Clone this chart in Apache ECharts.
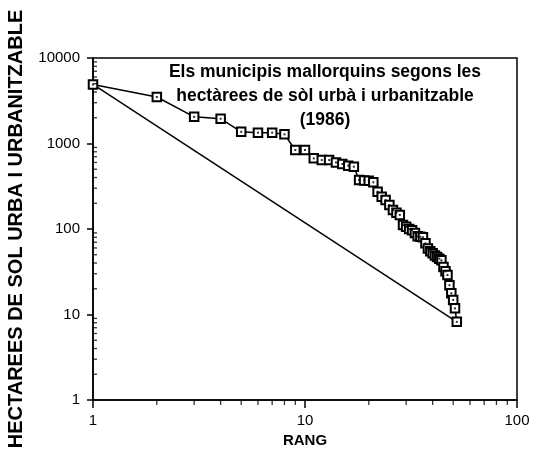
<!DOCTYPE html>
<html>
<head>
<meta charset="utf-8">
<script src="https://cdn.jsdelivr.net/npm/echarts@6/dist/echarts.min.js"></script>
<style>html,body{margin:0;padding:0;background:#fff}#c{width:533px;height:450px}</style>
</head>
<body>
<div id="c"></div>
<script>
// Rank of each municipality (x)
var ranks = [1,2,3,4,5,6,7,8,9,10,11,12,13,14,15,16,17,18,19,20,21,22,23,24,25,26,27,28,29,30,31,32,33,34,35,36,37,38,39,40,41,42,43,44,45,46,47,48,49,50,51,52];
// Hectares of urban and urbanizable land (y)
var hectares = [4900,3500,2050,1950,1370,1340,1340,1280,840,840,670,640,640,600,575,550,535,374,370,367,352,273,239,218,191,167,155,146,111,106,100,97,90,82,81,80,68,59,55,52,49,47,45,43,36,32,29,22,17.7,14.8,11.8,8.2];
// Reference straight line (rank-size rule)
var refLineX = [1, 52];
var refLineY = [4900, 8.2];
// Tick values
var xMajorTicks = [1, 10, 100];
var yMajorTicks = [1, 10, 100, 1000, 10000];
var xMinorTicks = [2,3,4,5,6,7,8,9,20,30,40,50,60,70,80,90];
var yMinorTicks = [2,3,4,5,6,7,8,9,20,30,40,50,60,70,80,90,200,300,400,500,600,700,800,900,2000,3000,4000,5000,6000,7000,8000,9000];

var titleLines = ['Els municipis mallorquins segons les', 'hectàrees de sòl urbà i urbanitzable', '(1986)'];
var xName = 'RANG';
var yName = 'HECTAREES DE SOL URBA I URBANITZABLE';

var mainData = ranks.map(function(r, i){ return [r, hectares[i]]; });
var refData = refLineX.map(function(x, i){ return [x, refLineY[i]]; });

var chart = echarts.init(document.getElementById('c'), null, {renderer: 'canvas'});
var font = 'Liberation Sans, Arial, sans-serif';
function plain(v){ return String(Math.round(v)); }
chart.setOption({
  animation: false,
  backgroundColor: '#fff',
  title: {
    text: titleLines.join('\n'),
    left: 320, top: 55, textAlign: 'center',
    textStyle: {fontFamily: font, fontSize: 17.5, fontWeight: 'bold', color: '#000', lineHeight: 24}
  },
  grid: {left: 93, right: 16, top: 58, bottom: 50, containLabel: false, outerBoundsMode: 'none',
         show: true, borderColor: '#000', borderWidth: 1.5, backgroundColor: 'transparent'},
  xAxis: {
    type: 'log', logBase: 10, min: 1, max: 100,
    name: xName, nameLocation: 'middle', nameGap: 31,
    nameTextStyle: {fontFamily: font, fontSize: 15, fontWeight: 'bold', color: '#000'},
    axisLine: {lineStyle: {color: '#000', width: 1.5}},
    axisTick: {show: true, length: 8, lineStyle: {color: '#000', width: 1.5}},
    axisLabel: {fontFamily: font, fontSize: 15, color: '#000', margin: 13, formatter: plain},
    splitLine: {show: false}
  },
  yAxis: {
    type: 'log', logBase: 10, min: 1, max: 10000,
    name: yName, nameLocation: 'middle', nameGap: 67, nameRotate: 90,
    nameTextStyle: {fontFamily: font, fontSize: 20, fontWeight: 'bold', color: '#000'},
    axisLine: {lineStyle: {color: '#000', width: 1.5}},
    axisTick: {show: true, length: 6, lineStyle: {color: '#000', width: 1.5}},
    axisLabel: {fontFamily: font, fontSize: 15, color: '#000', margin: 13, formatter: plain},
    splitLine: {show: false}
  },
  series: [
    {
      type: 'line', data: refData, symbol: 'none',
      lineStyle: {color: '#000', width: 1.5}, z: 2
    },
    {
      type: 'line', data: mainData, symbol: 'rect', symbolSize: 8.5, showAllSymbol: true,
      lineStyle: {color: '#000', width: 1.5},
      itemStyle: {color: '#fff', borderColor: '#000', borderWidth: 2}, z: 3
    },
    {
      type: 'scatter', data: mainData, symbol: 'rect', symbolSize: 2,
      itemStyle: {color: '#000'}, z: 4, silent: true
    },
    {
      type: 'scatter', clip: false, silent: true,
      data: xMinorTicks.map(function(v){ return [v, 1]; }),
      symbol: 'rect', symbolSize: [1.3, 5], symbolOffset: [0, 2.5],
      itemStyle: {color: '#000'}, z: 5
    },
    {
      type: 'scatter', clip: false, silent: true,
      data: yMinorTicks.map(function(v){ return [1, v]; }),
      symbol: 'rect', symbolSize: [4, 1.3], symbolOffset: [2, 0],
      itemStyle: {color: '#000'}, z: 5
    }
  ]
});
</script>
</body>
</html>
